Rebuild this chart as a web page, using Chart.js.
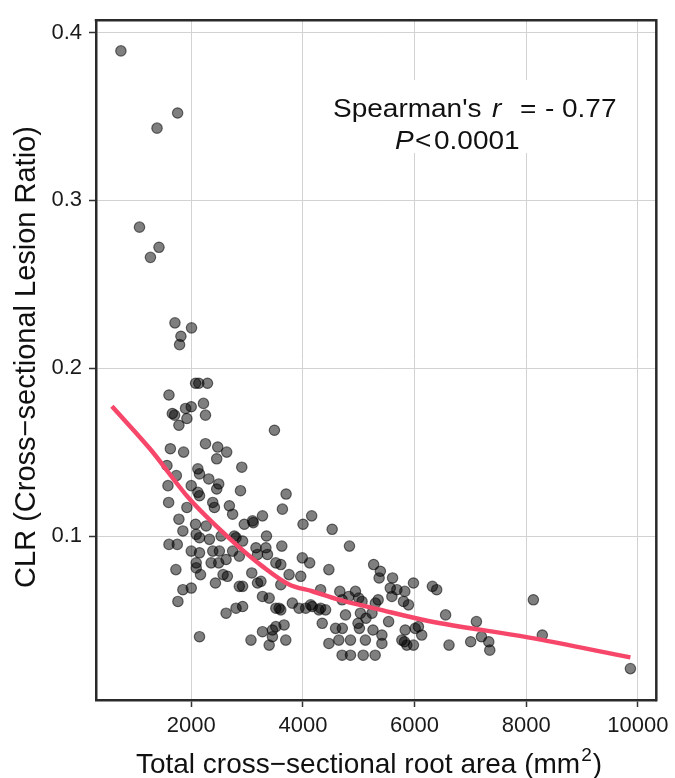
<!DOCTYPE html>
<html><head><meta charset="utf-8">
<script src="https://cdn.jsdelivr.net/npm/chart.js@4"></script>
<style>html,body{margin:0;padding:0;background:#fff}#wrap{width:675px;height:778px;position:relative}</style>
</head><body><div id="wrap"><canvas id="c" width="675" height="778"></canvas></div>
<script>
// Total cross-sectional root area (mm^2) of each sample
const rootArea = [740,1756,1387,1073,1422,1269,1708,2005,1815,1791,2077,2135,2291,1601,1898,2000,2219,1661,1702,1922,2255,1779,3490,2255,2474,2635,2456,1626,1863,2905,1565,1733,2118,2148,2314,2492,2456,2882,3699,1583,2000,2118,2148,1595,1922,2385,2415,2683,3633,4157,4002,4524,3622,4834,3989,4121,5267,3276,3098,2950,1779,1850,1601,1750,2077,2089,2148,2000,2148,2089,2089,2166,1725,1850,2000,1761,2148,2267,2326,2385,2356,2504,2492,2624,2570,2647,2433,2535,2741,2772,2802,2920,2741,2861,2861,2920,3111,3348,3159,3337,3187,3365,3515,3604,3084,3187,3248,3276,3396,3515,3604,2624,2802,2920,3276,3454,3663,3070,3396,3454,3693,4465,3752,3961,4317,3811,3930,4050,4167,4317,4346,3515,4465,5387,5365,5606,5980,5565,5683,5825,6319,6396,4661,4941,5000,4702,4822,5594,5348,5298,5802,5891,4139,4287,4406,3574,4763,5030,5130,4987,5237,5535,4585,4706,5012,5255,5415,5832,6011,6128,4643,4852,5119,5415,5772,5820,5861,5980,4702,4852,5080,5294,8128,6556,7108,6069,7198,7005,7329,7347,6617,8288,9866,5059,3604];
// CLR (cross-sectional lesion ratio) of each sample
const clr = [0.389,0.352,0.343,0.284,0.272,0.266,0.227,0.224,0.219,0.214,0.191,0.191,0.191,0.184,0.176,0.177,0.179,0.173,0.172,0.170,0.172,0.166,0.163,0.155,0.153,0.150,0.146,0.152,0.150,0.141,0.142,0.136,0.140,0.137,0.134,0.131,0.128,0.127,0.125,0.130,0.130,0.126,0.124,0.120,0.117,0.120,0.117,0.118,0.116,0.112,0.107,0.104,0.094,0.094,0.087,0.084,0.083,0.112,0.109,0.107,0.110,0.103,0.095,0.095,0.107,0.101,0.099,0.091,0.090,0.084,0.081,0.077,0.080,0.068,0.069,0.061,0.040,0.106,0.098,0.091,0.084,0.091,0.084,0.086,0.077,0.076,0.072,0.100,0.113,0.100,0.099,0.097,0.091,0.088,0.070,0.070,0.108,0.100,0.093,0.093,0.089,0.089,0.084,0.083,0.078,0.072,0.073,0.064,0.063,0.057,0.056,0.054,0.057,0.058,0.043,0.044,0.047,0.038,0.035,0.040,0.038,0.080,0.077,0.076,0.068,0.060,0.057,0.057,0.058,0.057,0.048,0.046,0.036,0.079,0.075,0.075,0.072,0.069,0.068,0.067,0.070,0.068,0.067,0.067,0.063,0.062,0.064,0.064,0.062,0.060,0.061,0.059,0.059,0.056,0.056,0.057,0.053,0.054,0.051,0.048,0.054,0.049,0.045,0.045,0.045,0.044,0.041,0.044,0.045,0.041,0.038,0.038,0.038,0.036,0.038,0.037,0.035,0.035,0.029,0.029,0.029,0.029,0.062,0.053,0.049,0.046,0.040,0.037,0.037,0.032,0.035,0.041,0.021,0.061,0.071];
// smoothed (loess) trend
const trendX = [579,1257,1970,2683,3276,3752,4168,4643,5356,6248,8030,9866];
const trendY = [0.1773,0.1521,0.1220,0.0986,0.0819,0.0711,0.0671,0.0621,0.0563,0.0494,0.0396,0.0277];
const xTicks = [2000,4000,6000,8000,10000];
const yTicks = [0.1,0.2,0.3,0.4];
const xTitle = ['Total cross\u2212sectional root area (mm', '2', ')'];
const yTitle = 'CLR (Cross\u2212sectional Lesion Ratio)';
const statLine1 = ["Spearman's", 'r', '=', '-', '0.77'];
const statLine2 = ['P', '<', '0.0001'];

const FONT = '"Liberation Sans", Arial, Helvetica, sans-serif';

const points = rootArea.map((x, i) => ({x: x, y: clr[i]}));
const trend = trendX.map((x, i) => ({x: x, y: trendY[i]}));

const decor = {
  id: 'decor',
  beforeDatasetsDraw(chart) {
    const ctx = chart.ctx;
    ctx.save();
    ctx.fillStyle = '#ffffff';
    ctx.fillRect(328, 80, 294, 73);
    ctx.restore();
  },
  afterDraw(chart) {
    const ctx = chart.ctx;
    const a = chart.chartArea;
    ctx.save();
    ctx.strokeStyle = '#2a2a2a';
    ctx.lineWidth = 2.5;
    ctx.beginPath();
    ctx.moveTo(a.left - 1.25, a.top);
    ctx.lineTo(a.right, a.top);
    ctx.lineTo(a.right, a.bottom + 1.25);
    ctx.stroke();

    ctx.fillStyle = '#111';
    ctx.textBaseline = 'alphabetic';
    const sx = 1.12;
    function piece(txt, x, y, italic) {
      ctx.save();
      ctx.font = (italic ? 'italic ' : '') + '25px ' + FONT;
      ctx.translate(x, y);
      ctx.scale(sx, 1);
      ctx.textAlign = 'left';
      ctx.fillText(txt, 0, 0);
      ctx.restore();
    }
    piece(statLine1[0], 333, 117, false);
    piece(statLine1[1], 492, 117, true);
    piece(statLine1[2], 520, 117, false);
    piece(statLine1[3], 545, 117, false);
    piece(statLine1[4], 562, 117, false);
    piece(statLine2[0], 395, 149, true);
    piece(statLine2[1], 415, 149, false);
    piece(statLine2[2], 434, 149, false);

    ctx.font = '28px ' + FONT;
    const w0 = ctx.measureText(xTitle[0]).width;
    ctx.font = '19px ' + FONT;
    const w1 = ctx.measureText(xTitle[1]).width;
    ctx.font = '28px ' + FONT;
    const w2 = ctx.measureText(xTitle[2]).width;
    const tot = w0 + w1 + w2 + 2;
    let x0 = 369 - tot / 2;
    const by = 773;
    ctx.textAlign = 'left';
    ctx.fillText(xTitle[0], x0, by);
    ctx.font = '19px ' + FONT;
    ctx.fillText(xTitle[1], x0 + w0 + 1, by - 12);
    ctx.font = '28px ' + FONT;
    ctx.fillText(xTitle[2], x0 + w0 + w1 + 2, by);

    ctx.save();
    ctx.translate(35, 357);
    ctx.rotate(-Math.PI / 2);
    ctx.textAlign = 'center';
    ctx.font = '29px ' + FONT;
    ctx.fillText(yTitle, 0, 0);
    ctx.restore();
    ctx.restore();
  }
};

new Chart(document.getElementById('c'), {
  type: 'scatter',
  data: {
    datasets: [
      {
        label: 'trend',
        data: trend,
        showLine: true,
        borderColor: '#F6476A',
        borderWidth: 4.5,
        pointRadius: 0,
        cubicInterpolationMode: 'monotone',
        fill: false,
        order: 0
      },
      {
        label: 'samples',
        data: points,
        pointRadius: 5.2,
        pointBackgroundColor: 'rgba(0,0,0,0.5)',
        pointBorderColor: 'rgba(0,0,0,0.55)',
        pointBorderWidth: 1.2,
        order: 1
      }
    ]
  },
  options: {
    responsive: false,
    animation: false,
    devicePixelRatio: 1,
    layout: {padding: {top: 14, right: 16, left: 0, bottom: 0}},
    plugins: {legend: {display: false}, tooltip: {enabled: false}},
    scales: {
      x: {
        type: 'linear', min: 294, max: 10330,
        afterBuildTicks: s => { s.ticks = xTicks.map(v => ({value: v})); },
        afterFit: s => { s.height = 78; },
        ticks: {font: {family: FONT, size: 22}, color: '#1a1a1a', padding: 6, maxRotation: 0, autoSkip: false, callback: v => String(v)},
        grid: {color: '#d2d2d2', lineWidth: 1, tickColor: '#333', tickLength: 7, tickWidth: 1.5},
        border: {color: '#2a2a2a', width: 2.5}
      },
      y: {
        type: 'linear', min: 0.0023, max: 0.4073,
        afterBuildTicks: s => { s.ticks = yTicks.map(v => ({value: v})); },
        afterFit: s => { s.width = 96; },
        ticks: {font: {family: FONT, size: 22}, color: '#1a1a1a', padding: 7, autoSkip: false, callback: v => v.toFixed(1)},
        grid: {color: '#d2d2d2', lineWidth: 1, tickColor: '#333', tickLength: 7, tickWidth: 1.5},
        border: {color: '#2a2a2a', width: 2.5}
      }
    }
  },
  plugins: [decor]
});
</script>
</body></html>
